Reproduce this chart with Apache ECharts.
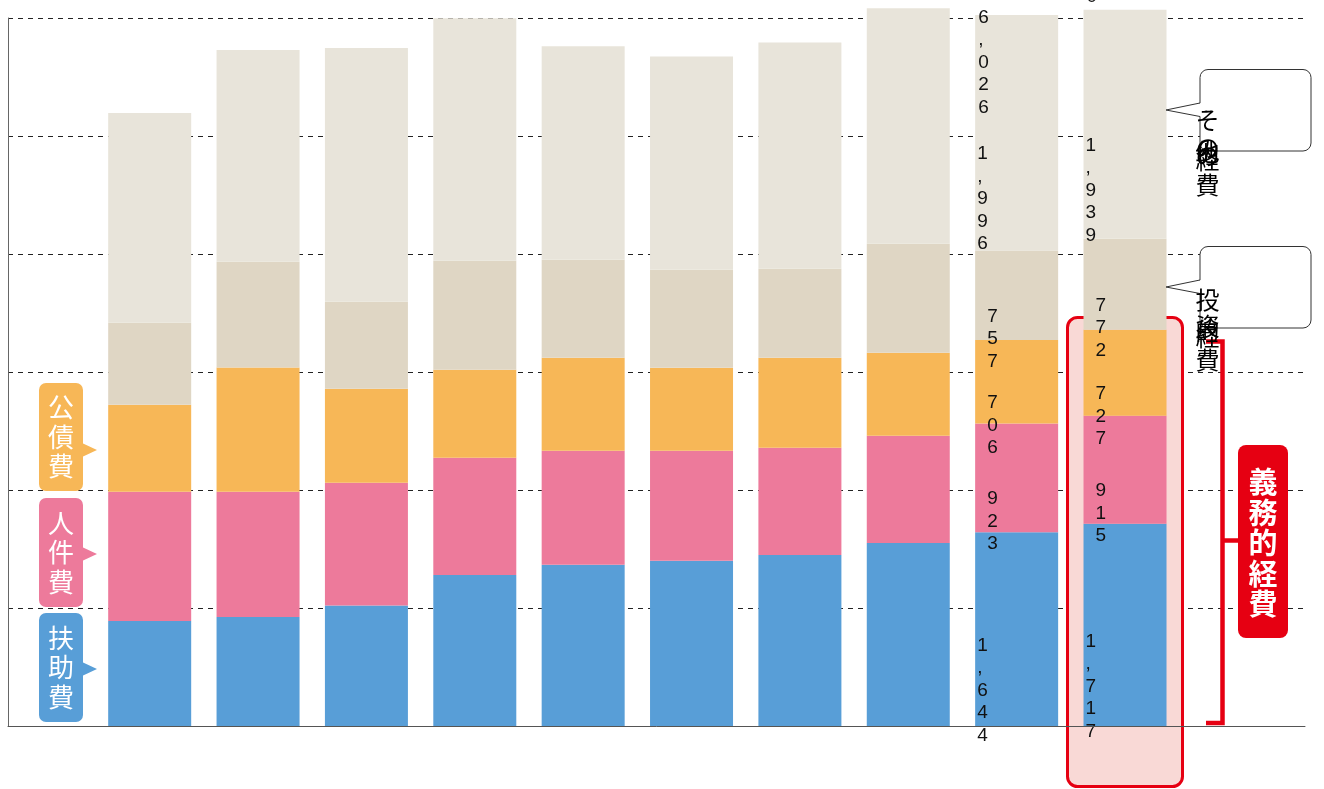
<!DOCTYPE html>
<html><head><meta charset="utf-8">
<script src="https://cdn.jsdelivr.net/npm/echarts@6/dist/echarts.min.js"></script>
<style>html,body{margin:0;padding:0;background:#fff}#c{width:1324px;height:789px}</style>
</head><body><div id="c"></div>
<script>
// ---- data ----
const categories = ['1', '2', '3', '4', '5', '6', '7', '8', '9', '10'];
const seriesNames = ['扶助費', '人件費', '公債費', '投資的経費', 'その他の経費'];
const fujohi   = [894, 928, 1024, 1284, 1369, 1403, 1453, 1555, 1644, 1717];
const jinkenhi = [1093, 1059, 1040, 991, 966, 932, 907, 907, 923, 915];
const kosaihi  = [738, 1054, 796, 746, 788, 703, 763, 703, 706, 727];
const toshi    = [694, 895, 737, 924, 830, 831, 754, 924, 757, 772];
const sonota   = [1777, 1792, 2148, 2053, 1807, 1806, 1915, 1993, 1996, 1939];
const labeledBars = [8, 9];
const yMin = 0, yMax = 6000, yStep = 1000;

// ---- styles ----
const colors = ['#589ed7', '#ed7a9b', '#f7b757', '#dfd6c4', '#e8e4da'];
const labelFont = '"Liberation Sans", Arial, sans-serif';
const jpFont = '"Noto Sans CJK JP", "Noto Sans", sans-serif';
const segLabelDy = [5, 10, 10, 10, 10];
const topLabelDy = [-8, -114];

const valuesList = [fujohi, jinkenhi, kosaihi, toshi, sonota];
const totals = categories.map((_, i) => valuesList.reduce((s, arr) => s + arr[i], 0));
const vert = v => v.toLocaleString('en-US').split('').join('\n');

const barSeries = valuesList.map((vals, si) => ({
  name: seriesNames[si], type: 'bar', stack: 'all', xAxisIndex: 1, yAxisIndex: 1,
  barWidth: 83, clip: false, z: 2,
  itemStyle: { color: colors[si] },
  data: vals.map((v, i) => {
    const item = { value: v };
    if (labeledBars.includes(i)) {
      item.label = {
        show: true, formatter: vert(v),
        position: [v >= 1000 ? 2 : 12, '50%'], offset: [0, segLabelDy[si]],
        align: 'left', verticalAlign: 'top',
        fontSize: 19, lineHeight: 22.5, color: '#111', fontFamily: labelFont
      };
    }
    return item;
  })
}));

const totalSeries = {
  type: 'scatter', xAxisIndex: 1, yAxisIndex: 1, symbolSize: 1, clip: false, z: 5,
  itemStyle: { color: 'rgba(0,0,0,0)', opacity: 1 },
  data: labeledBars.map((i, k) => ({
    value: [i, totals[i]],
    label: {
      show: true, formatter: vert(totals[i]), position: [-38, topLabelDy[k]],
      align: 'left', verticalAlign: 'top', opacity: 1,
      fontSize: 19, lineHeight: 22.5, color: '#111', fontFamily: labelFont
    }
  }))
};

// ---- annotations ----
const leftTags = [
  { text: '公債費', color: colors[2], y0: 383, y1: 491, tip: 450 },
  { text: '人件費', color: colors[1], y0: 498, y1: 607, tip: 554 },
  { text: '扶助費', color: colors[0], y0: 613, y1: 722, tip: 669 }
];
const graphics = [];
graphics.push({ type: 'rect', z: 1, shape: { x: 1067.5, y: 317.5, width: 115, height: 469, r: 10 },
  style: { fill: '#f9d9d6', stroke: '#e60012', lineWidth: 3 } });
leftTags.forEach(t => {
  graphics.push({ type: 'rect', z: 10, shape: { x: 39, y: t.y0, width: 44, height: t.y1 - t.y0, r: 7 }, style: { fill: t.color } });
  graphics.push({ type: 'polygon', z: 10, shape: { points: [[82, t.tip - 7], [97, t.tip], [82, t.tip + 7]] }, style: { fill: t.color } });
  graphics.push({ type: 'text', z: 11, x: 61, y: (t.y0 + t.y1) / 2,
    style: { text: t.text.split('').join('\n'), fill: '#fff', fontSize: 26, lineHeight: 29.5,
      align: 'center', verticalAlign: 'middle', fontFamily: jpFont } });
});
const bubbles = [
  { y0: 69.5, y1: 151, tip: [1166, 110], b0: 103, b1: 116.5,
    chars: [['そ', 119.5], ['の', 148], ['他', 152], ['の', 156], ['経', 160], ['費', 184.5]] },
  { y0: 246.5, y1: 328, tip: [1166, 287], b0: 280, b1: 293.5,
    chars: [['投', 299.5], ['資', 326], ['的', 331], ['経', 337], ['費', 360]] }
];
bubbles.forEach(b => {
  graphics.push({ type: 'rect', z: 10, shape: { x: 1200, y: b.y0, width: 111, height: b.y1 - b.y0, r: 8 },
    style: { fill: '#fff', stroke: '#333', lineWidth: 1 } });
  graphics.push({ type: 'polygon', z: 11, shape: { points: [[1201, b.b0], b.tip, [1201, b.b1]] }, style: { fill: '#fff' } });
  graphics.push({ type: 'polyline', z: 11, shape: { points: [[1200, b.b0], b.tip, [1200, b.b1]] },
    style: { stroke: '#333', lineWidth: 1, fill: null } });
  b.chars.forEach(c => graphics.push({ type: 'text', z: 13, x: 1207.5, y: c[1],
    style: { text: c[0], fill: '#000', fontSize: 24, align: 'center', verticalAlign: 'middle', fontFamily: jpFont } }));
});
graphics.push({ type: 'polyline', z: 12, shape: { points: [[1206, 341.5], [1222.5, 341.5], [1222.5, 723], [1206, 723]] },
  style: { stroke: '#e60012', lineWidth: 4.5, fill: null } });
graphics.push({ type: 'line', z: 12, shape: { x1: 1222.5, y1: 540.5, x2: 1239, y2: 540.5 }, style: { stroke: '#e60012', lineWidth: 4.5 } });
graphics.push({ type: 'rect', z: 12, shape: { x: 1238, y: 445, width: 50, height: 193, r: 8 }, style: { fill: '#e60012' } });
graphics.push({ type: 'text', z: 13, x: 1263, y: 543,
  style: { text: '義\n務\n的\n経\n費', fill: '#fff', fontSize: 29, fontWeight: 'bold', lineHeight: 30.5,
    align: 'center', verticalAlign: 'middle', fontFamily: jpFont } });

const chart = echarts.init(document.getElementById('c'));
chart.setOption({
  animation: false,
  backgroundColor: '#fff',
  grid: [
    { left: 8, right: 19, top: 18, bottom: 62.5 },
    { left: 95.5, right: 144.8, top: 18, bottom: 62.5 }
  ],
  xAxis: [
    { gridIndex: 0, type: 'category', data: [''], z: 3,
      axisLine: { show: true, lineStyle: { color: '#555', width: 1 } },
      axisTick: { show: false }, axisLabel: { show: false }, splitLine: { show: false } },
    { gridIndex: 1, type: 'category', data: categories, show: false }
  ],
  yAxis: [
    { gridIndex: 0, type: 'value', min: yMin, max: yMax, interval: yStep, z: 0,
      axisLine: { show: true, lineStyle: { color: '#666', width: 1 } },
      axisTick: { show: false }, axisLabel: { show: false },
      splitLine: { show: true, lineStyle: { color: '#222', type: [5, 5], width: 1 } } },
    { gridIndex: 1, type: 'value', min: yMin, max: yMax, show: false, splitLine: { show: false } }
  ],
  series: [...barSeries, totalSeries],
  graphic: { elements: graphics }
});
</script></body></html>
